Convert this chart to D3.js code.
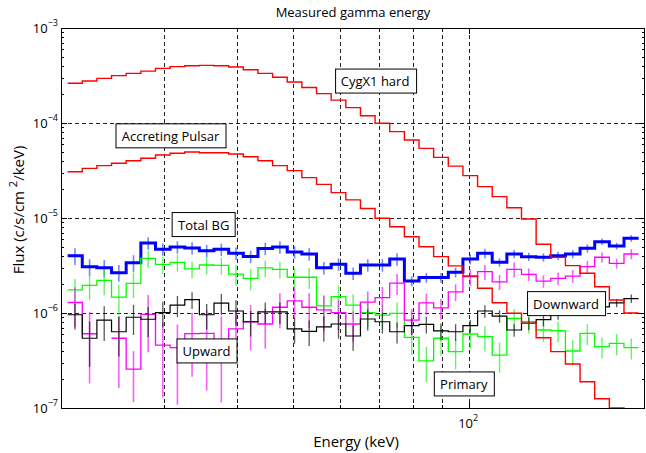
<!DOCTYPE html>
<html>
<head>
<meta charset="utf-8">
<script src="https://cdn.jsdelivr.net/npm/d3@7"></script>
<style>
  body { margin: 0; background: #fff; }
  text { font-family: "Open Sans", sans-serif; fill: #000; }
</style>
</head>
<body>
<div id="app"></div>
<script>
// Energy bin edges (keV), 39 log-spaced bins
const E_EDGES = [20.53, 21.75, 23.04, 24.41, 25.86, 27.40, 29.03, 30.75, 32.58, 34.51,
  36.56, 38.74, 41.04, 43.48, 46.06, 48.80, 51.70, 54.77, 58.03, 61.48,
  65.13, 69.00, 73.10, 77.45, 82.05, 86.92, 92.09, 97.56, 103.36, 109.50,
  116.01, 122.90, 130.20, 137.94, 146.14, 154.82, 164.02, 173.77, 184.10, 195.04];

// Flux per bin (c/s/cm^2/keV)
const CYGX1_HARD = [2.62e-4, 2.77e-4, 2.95e-4, 3.15e-4, 3.33e-4, 3.52e-4, 3.76e-4, 3.92e-4, 4.01e-4, 4.04e-4,
  4.01e-4, 3.88e-4, 3.64e-4, 3.33e-4, 3.03e-4, 2.70e-4, 2.36e-4, 2.04e-4, 1.74e-4, 1.45e-4,
  1.19e-4, 9.93e-5, 8.11e-5, 6.62e-5, 5.41e-5, 4.35e-5, 3.52e-5, 2.79e-5, 2.14e-5, 1.68e-5,
  1.28e-5, 9.75e-6, 5.3e-6, 3.85e-6, 3.15e-6, 2.62e-6, 1.89e-6, 1.37e-6, 1.0e-6];
const ACCRETING_PULSAR = [3.07e-5, 3.33e-5, 3.56e-5, 3.77e-5, 4.01e-5, 4.25e-5, 4.60e-5, 4.80e-5, 4.95e-5, 4.87e-5,
  4.87e-5, 4.72e-5, 4.42e-5, 4.01e-5, 3.56e-5, 3.15e-5, 2.66e-5, 2.26e-5, 1.85e-5, 1.55e-5,
  1.26e-5, 9.93e-6, 8.09e-6, 6.35e-6, 4.99e-6, 3.92e-6, 3.13e-6, 2.45e-6, 1.82e-6, 1.28e-6,
  9.93e-7, 7.79e-7, 5.49e-7, 3.92e-7, 2.90e-7, 1.89e-7, 1.25e-7, 1.0e-7, 7.0e-8];
const TOTAL_BG = [4.01e-6, 3.07e-6, 3.00e-6, 2.66e-6, 3.38e-6, 5.46e-6, 4.70e-6, 4.95e-6, 4.83e-6, 4.53e-6,
  4.69e-6, 4.25e-6, 3.93e-6, 4.78e-6, 4.95e-6, 4.39e-6, 4.18e-6, 3.00e-6, 3.26e-6, 2.62e-6,
  3.20e-6, 3.20e-6, 3.70e-6, 2.17e-6, 2.36e-6, 2.36e-6, 2.68e-6, 3.70e-6, 4.25e-6, 3.42e-6,
  4.18e-6, 3.92e-6, 3.86e-6, 4.01e-6, 4.18e-6, 4.80e-6, 5.64e-6, 5.07e-6, 6.11e-6];
const PRIMARY = [1.75e-6, 1.95e-6, 2.20e-6, 1.47e-6, 2.05e-6, 3.76e-6, 3.25e-6, 3.41e-6, 2.91e-6, 3.20e-6,
  3.17e-6, 2.56e-6, 2.32e-6, 2.98e-6, 2.88e-6, 2.38e-6, 2.38e-6, 1.19e-6, 1.49e-6, 1.21e-6,
  1.01e-6, 9.52e-7, 9.93e-7, 5.55e-7, 3.13e-7, 5.42e-7, 3.92e-7, 6.01e-7, 5.63e-7, 3.61e-7,
  8.79e-7, 8.09e-7, 6.62e-7, 6.52e-7, 3.98e-7, 6.11e-7, 4.42e-7, 4.80e-7, 4.32e-7];
const UPWARD = [1.29e-6, 6.05e-7, null, 5.42e-7, 2.56e-7, 9.68e-7, 4.60e-7, 4.32e-7, 6.08e-7, 6.11e-7,
  5.20e-7, 6.79e-7, 8.09e-7, 7.66e-7, 1.15e-6, 1.34e-6, 1.15e-6, 1.08e-6, 1.01e-6, 7.66e-7,
  1.30e-6, 1.45e-6, 2.06e-6, 8.43e-7, 1.28e-6, 1.13e-6, 1.67e-6, 2.41e-6, 2.72e-6, 2.13e-6,
  2.88e-6, 2.55e-6, 2.17e-6, 2.32e-6, 2.45e-6, 3.07e-6, 3.86e-6, 3.33e-6, 4.18e-6];
const DOWNWARD = [9.59e-7, 5.42e-7, 8.43e-7, 6.35e-7, 9.02e-7, 8.59e-7, 1.01e-6, 1.21e-6, 1.38e-6, 9.59e-7,
  1.27e-6, 1.05e-6, 8.09e-7, 1.03e-6, 1.03e-6, 6.79e-7, 6.41e-7, 7.13e-7, 7.66e-7, 5.73e-7,
  8.65e-7, 8.09e-7, 6.35e-7, 7.35e-7, 7.60e-7, 6.47e-7, 6.35e-7, 7.35e-7, 1.05e-6, 9.29e-7,
  6.62e-7, 7.80e-7, 8.5e-7, 1.0e-6, 1.1e-6, 1.16e-6, 1.16e-6, 1.28e-6, 1.42e-6];

// Relative errors per bin
const TOTAL_BG_ERR = [0.2, 0.2, 0.2, 0.2, 0.2, 0.15, 0.15, 0.15, 0.15, 0.15,
  0.15, 0.15, 0.15, 0.15, 0.15, 0.15, 0.15, 0.15, 0.15, 0.15,
  0.15, 0.15, 0.15, 0.12, 0.12, 0.12, 0.12, 0.12, 0.12, 0.1,
  0.1, 0.1, 0.1, 0.1, 0.1, 0.1, 0.08, 0.08, 0.08];
const PRIMARY_ERR = [0.3, 0.3, 0.3, 0.35, 0.3, 0.2, 0.2, 0.2, 0.2, 0.2,
  0.2, 0.25, 0.25, 0.2, 0.2, 0.25, 0.25, 0.3, 0.3, 0.3,
  0.3, 0.3, 0.3, 0.35, 0.4, 0.35, 0.35, 0.3, 0.3, 0.35,
  0.25, 0.25, 0.25, 0.25, 0.3, 0.25, 0.25, 0.25, 0.25];
const UPWARD_ERR = [0.45, 0.7, null, 0.7, 0.55, 0.6, 0.72, 0.75, 0.65, 0.75,
  0.78, 0.55, 0.5, 0.45, 0.4, 0.35, 0.4, 0.4, 0.35, 0.35,
  0.3, 0.3, 0.25, 0.3, 0.25, 0.25, 0.2, 0.2, 0.18, 0.18,
  0.18, 0.15, 0.15, 0.15, 0.15, 0.15, 0.12, 0.12, 0.12];
const DOWNWARD_ERR = [0.3, 0.5, 0.4, 0.45, 0.35, 0.35, 0.3, 0.25, 0.2, 0.3,
  0.25, 0.3, 0.3, 0.25, 0.25, 0.3, 0.3, 0.3, 0.3, 0.3,
  0.25, 0.25, 0.25, 0.2, 0.2, 0.2, 0.2, 0.15, 0.15, 0.15,
  0.15, 0.15, 0.15, 0.15, 0.12, 0.12, 0.12, 0.1, 0.1];

// Annotations: label, energy (keV), flux at box centre
const LABELS = ["CygX1 hard", "Accreting Pulsar", "Total BG", "Upward", "Primary", "Downward"];
const LABEL_E = [69.0, 30.8, 35.1, 35.5, 97.9, 146.5];
const LABEL_F = [2.73e-4, 7.24e-5, 8.43e-6, 3.94e-7, 1.77e-7, 1.24e-6];

const X_GRID = [30, 40, 50, 60, 70, 80, 90, 100];
const Y_GRID = [1e-6, 1e-5, 1e-4];
const Y_MAJOR = [1e-7, 1e-6, 1e-5, 1e-4, 1e-3];
const Y_EXP = [-7, -6, -5, -4, -3];
const X_MINOR = [30, 40, 50, 60, 70, 80, 90];
const X_MAJOR = [100];

const WIDTH = 646;
const HEIGHT = 453;
const MARGIN = { TOP: 28, RIGHT: 1, BOTTOM: 45, LEFT: 61 };

const svg = d3.select("#app").append("svg")
  .attr("width", WIDTH).attr("height", HEIGHT);

const x = d3.scaleLog().domain([20, 200]).range([MARGIN.LEFT, WIDTH - MARGIN.RIGHT]);
const y = d3.scaleLog().domain([1e-7, 1e-3]).range([HEIGHT - MARGIN.BOTTOM, MARGIN.TOP]);

svg.append("clipPath").attr("id", "plot-clip")
  .append("rect")
  .attr("x", x.range()[0]).attr("y", y.range()[1])
  .attr("width", x.range()[1] - x.range()[0])
  .attr("height", y.range()[0] - y.range()[1]);

// Grid
const grid = svg.append("g").attr("stroke", "#222").attr("stroke-dasharray", "4,3").attr("stroke-width", 1);
grid.selectAll("line.gx").data(X_GRID).join("line")
  .attr("x1", d => Math.round(x(d)) + 0.5).attr("x2", d => Math.round(x(d)) + 0.5)
  .attr("y1", y.range()[1]).attr("y2", y.range()[0]);
grid.selectAll("line.gy").data(Y_GRID).join("line")
  .attr("class", "gy")
  .attr("y1", d => Math.round(y(d)) + 0.5).attr("y2", d => Math.round(y(d)) + 0.5)
  .attr("x1", x.range()[0]).attr("x2", x.range()[1]);

const plot = svg.append("g").attr("clip-path", "url(#plot-clip)");

// Turn a series into stair points
function stairs(values) {
  const pts = [];
  values.forEach((v, i) => {
    if (v == null) { pts.push(null); return; }
    pts.push([E_EDGES[i], v], [E_EDGES[i + 1], v]);
  });
  return pts;
}
const stairLine = d3.line()
  .defined(d => d != null)
  .x(d => x(d[0]))
  .y(d => y(d[1]));

function errorBars(values, errs, color, width) {
  plot.append("g")
    .attr("stroke", color).attr("stroke-width", width).attr("stroke-opacity", 0.7)
    .selectAll("line")
    .data(values.map((v, i) => ({ v, e: errs[i], c: Math.sqrt(E_EDGES[i] * E_EDGES[i + 1]) }))
      .filter(d => d.v != null))
    .join("line")
    .attr("x1", d => x(d.c)).attr("x2", d => x(d.c))
    .attr("y1", d => y(d.v * (1 + d.e)))
    .attr("y2", d => y(Math.max(d.v * (1 - d.e), 1e-8)));
}

function drawSeries(values, color, width) {
  plot.append("path")
    .datum(stairs(values))
    .attr("fill", "none")
    .attr("stroke", color)
    .attr("stroke-width", width)
    .attr("d", stairLine);
}

errorBars(TOTAL_BG, TOTAL_BG_ERR, "#3355ff", 1.6);
drawSeries(TOTAL_BG, "#0000ff", 3);
errorBars(PRIMARY, PRIMARY_ERR, "#22ee22", 1.4);
drawSeries(PRIMARY, "#00ff00", 1.3);
errorBars(UPWARD, UPWARD_ERR, "#ee22ee", 1.6);
drawSeries(UPWARD, "#ff00ff", 1.3);
errorBars(DOWNWARD, DOWNWARD_ERR, "#111", 1.3);
drawSeries(DOWNWARD, "#000", 1.2);
drawSeries(CYGX1_HARD, "#ff0000", 1.4);
drawSeries(ACCRETING_PULSAR, "#ff0000", 1.4);

// Frame and ticks
svg.append("rect")
  .attr("x", x.range()[0] + 0.5).attr("y", y.range()[1] + 0.5)
  .attr("width", x.range()[1] - x.range()[0] - 1)
  .attr("height", y.range()[0] - y.range()[1])
  .attr("fill", "none").attr("stroke", "#000").attr("stroke-width", 1);

const yMinor = Y_MAJOR.slice(0, -1).flatMap(d => d3.range(2, 10).map(k => k * d));
const ticks = svg.append("g").attr("stroke", "#000").attr("stroke-width", 1);
function yTicks(vals, len) {
  vals.forEach(v => {
    const yy = Math.round(y(v)) + 0.5;
    ticks.append("line").attr("x1", x.range()[0]).attr("x2", x.range()[0] + len).attr("y1", yy).attr("y2", yy);
    ticks.append("line").attr("x1", x.range()[1]).attr("x2", x.range()[1] - len).attr("y1", yy).attr("y2", yy);
  });
}
function xTicks(vals, len) {
  vals.forEach(v => {
    const xx = Math.round(x(v)) + 0.5;
    ticks.append("line").attr("x1", xx).attr("x2", xx).attr("y1", y.range()[0]).attr("y2", y.range()[0] - len);
    ticks.append("line").attr("x1", xx).attr("x2", xx).attr("y1", y.range()[1]).attr("y2", y.range()[1] + len);
  });
}
yTicks(Y_MAJOR, 6);
yTicks(yMinor, 3);
xTicks(X_MAJOR, 6);
xTicks(X_MINOR, 3);

// Tick labels
const yLab = svg.append("g").selectAll("text").data(Y_MAJOR).join("text")
  .attr("x", x.range()[0] - 3)
  .attr("y", d => y(d) + 5)
  .attr("text-anchor", "end")
  .style("font-size", "13px");
yLab.append("tspan").text("10");
yLab.append("tspan").attr("dy", -7).style("font-size", "9px").text((d, i) => "\u2212" + (-Y_EXP[i]));

const xLab = svg.append("text")
  .attr("x", x(100) - 1)
  .attr("y", y.range()[0] + 20)
  .attr("text-anchor", "middle")
  .style("font-size", "13px");
xLab.append("tspan").text("10");
xLab.append("tspan").attr("dy", -7).style("font-size", "9px").text("2");

// Title and axis titles
const cx = (x.range()[0] + x.range()[1]) / 2;
svg.append("text").attr("x", cx).attr("y", 17).attr("text-anchor", "middle")
  .style("font-size", "13px").text("Measured gamma energy");
svg.append("text").attr("x", cx + 3).attr("y", 447).attr("text-anchor", "middle")
  .style("font-size", "15px").text("Energy (keV)");
const yTitle = svg.append("text")
  .attr("transform", "translate(24,210) rotate(-90)")
  .attr("text-anchor", "middle")
  .style("font-size", "15px");
yTitle.append("tspan").text("Flux (c/s/cm  ");
yTitle.append("tspan").attr("dy", -7).style("font-size", "11px").text("2");
yTitle.append("tspan").attr("dy", 7).text("/keV)");

// Annotation boxes
LABELS.forEach((label, i) => {
  const g = svg.append("g").attr("transform", `translate(${x(LABEL_E[i])}, ${y(LABEL_F[i])})`);
  const rect = g.append("rect");
  const t = g.append("text").attr("text-anchor", "middle").attr("dy", "0.36em")
    .style("font-size", "13px").text(label);
  const bb = t.node().getBBox();
  rect.attr("x", Math.round(bb.x - 6) + 0.5).attr("y", -12.5)
    .attr("width", Math.round(bb.width + 12)).attr("height", 24)
    .attr("fill", "#fff").attr("stroke", "#000").attr("stroke-width", 1);
});
</script>
</body>
</html>
